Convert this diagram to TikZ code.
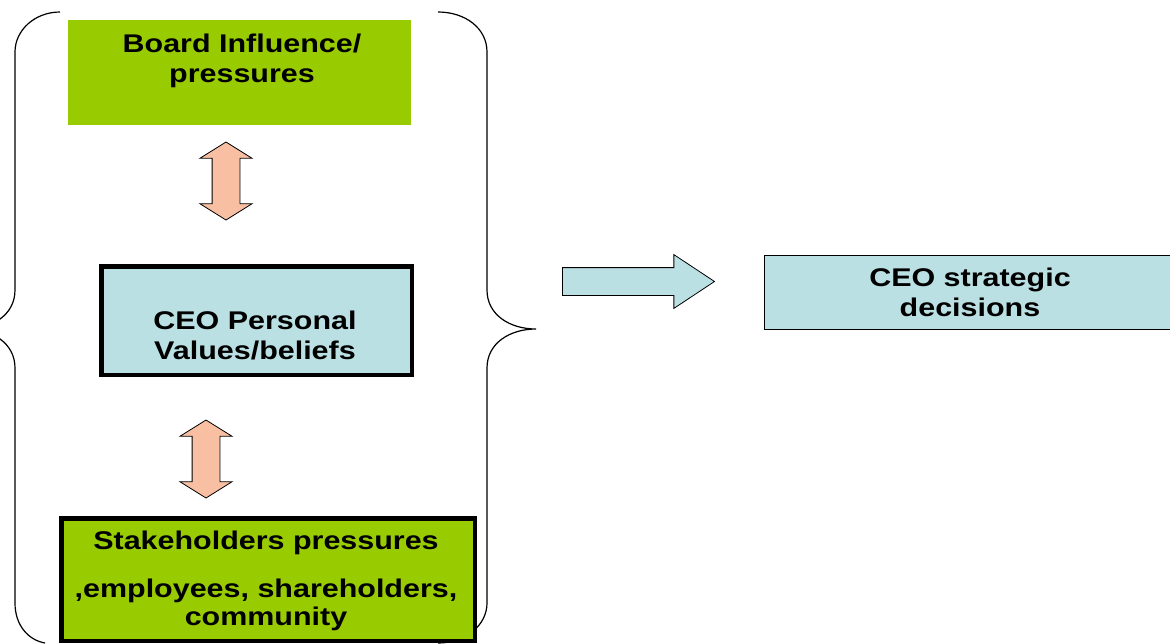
\documentclass[tikz,border=0pt]{standalone}
\usepackage{fontspec}
\setmainfont{Liberation Sans}
\usepackage{graphicx}
\usetikzlibrary{shapes.arrows}

\definecolor{boardgreen}{HTML}{99CC00}
\definecolor{ceoblue}{HTML}{BAE0E3}
\definecolor{arrowpink}{HTML}{F9BFA3}
\newcommand{\wide}[1]{\scalebox{1.19}[1]{#1}}

\begin{document}
\begin{tikzpicture}[x=1pt,y=-1pt,
  txt/.style={font=\fontsize{25.6}{30}\selectfont\bfseries,align=center,inner sep=0,anchor=base},
  greenbox/.style={fill=boardgreen,anchor=north west,inner sep=0},
  bluebox/.style={fill=ceoblue,anchor=north west,inner sep=0},
  pairarrow/.style={double arrow,rotate=90,draw,fill=arrowpink,line width=0.8pt,
    inner xsep=0,inner ysep=13.5pt,minimum width=0pt,
    double arrow head extend=12pt,double arrow tip angle=116},
  goarrow/.style={single arrow,draw,fill=ceoblue,line width=0.8pt,
    inner xsep=0,inner ysep=13.5pt,minimum width=0pt,
    single arrow head extend=13pt,single arrow tip angle=67},
  brace/.style={line width=1.2pt}]
  \useasboundingbox (0,0) rectangle (1170,643);
  % the two braces round the left column
  \draw[brace] (60,12) .. controls (35,12) and (15,30) .. (15,52) -- (15,290)
    .. controls (15,315) and (-8,329) .. (-34,329)
    .. controls (-8,329) and (15,343) .. (15,368) -- (15,603)
    .. controls (15,625) and (28,640) .. (45,643);
  \draw[brace] (438,12) .. controls (465,12) and (487,28) .. (487,52) -- (487,290)
    .. controls (487,315) and (510,329) .. (536,329)
    .. controls (510,329) and (487,343) .. (487,368) -- (487,603)
    .. controls (487,625) and (466,643) .. (438,643);
  % boxes
  \node[greenbox,minimum width=343pt,minimum height=105pt] (board) at (68,20) {};
  \node[bluebox,draw,line width=4.5pt,minimum width=310.5pt,minimum height=108.5pt] (ceo) at (99.25,264.25) {};
  \node[greenbox,draw,line width=4.5pt,minimum width=413.5pt,minimum height=122.5pt] (stake) at (59.25,516.25) {};
  \node[bluebox,draw,line width=1pt,minimum width=408pt,minimum height=74pt] (decide) at (764,255) {};
  % texts (base = last line)
  \node[txt] (boardtxt) at (242,82) {\wide{Board Influence/}\\\wide{pressures}};
  \node[txt] (ceotxt) at (255,359) {\wide{CEO Personal}\\\wide{Values/beliefs}};
  \node[txt] (staketxt) at (266,625) {\wide{Stakeholders pressures}\\[18pt]\wide{,employees, shareholders,}\\[-2pt]\wide{community}};
  \node[txt] (decidetxt) at (970,316) {\wide{CEO strategic}\\\wide{decisions}};
  % arrows
  \node[pairarrow,minimum height=78pt] (link1) at (226,181) {};
  \node[pairarrow,minimum height=78pt] (link2) at (206,459) {};
  \node[goarrow,minimum height=152pt] (go) at (628,281.5) {};
\end{tikzpicture}
\end{document}
